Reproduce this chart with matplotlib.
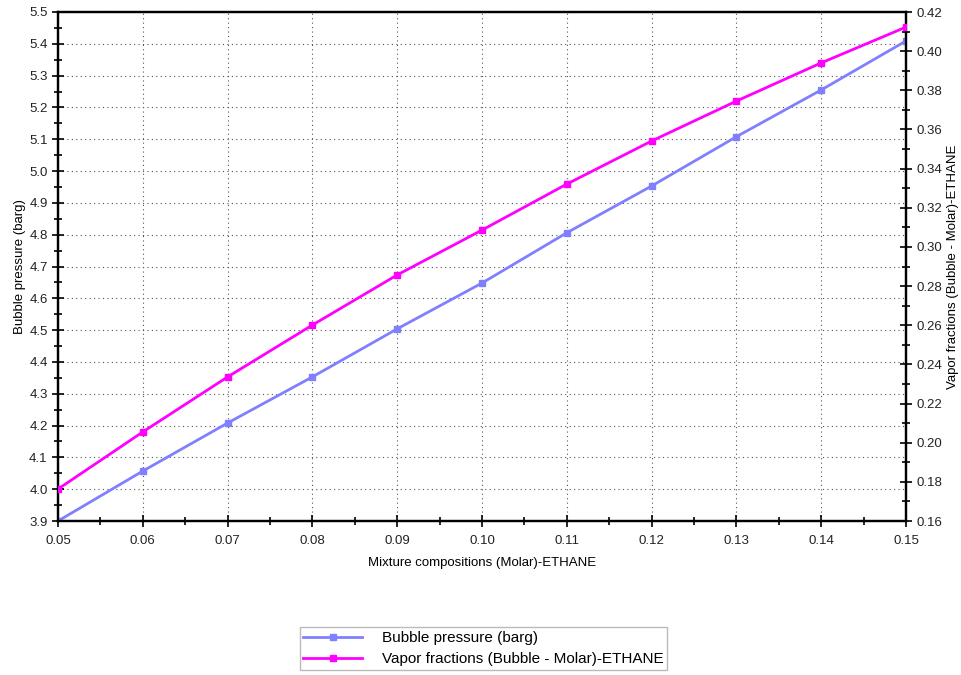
import matplotlib
matplotlib.use("Agg")
import matplotlib.pyplot as plt
from matplotlib.ticker import MultipleLocator, FormatStrFormatter

plt.rcParams['font.family'] = ['Liberation Sans', 'DejaVu Sans']

composition = [0.05, 0.06, 0.07, 0.08, 0.09, 0.10, 0.11, 0.12, 0.13, 0.14, 0.15]
bubble_pressure = [3.900, 4.057, 4.208, 4.353, 4.504, 4.648, 4.806, 4.953, 5.108, 5.255, 5.409]
vapor_fraction = [0.1763, 0.2055, 0.2336, 0.2601, 0.2857, 0.3086, 0.3321, 0.3541, 0.3745, 0.3940, 0.4123]

x_label = "Mixture compositions (Molar)-ETHANE"
left_label = "Bubble pressure (barg)"
right_label = "Vapor fractions (Bubble - Molar)-ETHANE"

fig = plt.figure(figsize=(9.62, 6.75), dpi=100)
ax = fig.add_axes([58/962, 1-521/675, (906-58)/962, (521-12)/675])
ax2 = ax.twinx()

l1, = ax.plot(composition, bubble_pressure, color='#8080FF', lw=2.0, marker='s', ms=5, zorder=3)
l2, = ax2.plot(composition, vapor_fraction, color='#FF00FF', lw=2.0, marker='s', ms=5, zorder=3)

ax.set_xlim(0.05, 0.15)
ax.set_ylim(3.9, 5.5)
ax2.set_ylim(0.16, 0.42)

ax.xaxis.set_major_locator(MultipleLocator(0.01))
ax.xaxis.set_minor_locator(MultipleLocator(0.005))
ax.yaxis.set_major_locator(MultipleLocator(0.1))
ax.yaxis.set_minor_locator(MultipleLocator(0.05))
ax2.yaxis.set_major_locator(MultipleLocator(0.02))
ax2.yaxis.set_minor_locator(MultipleLocator(0.01))

ax.xaxis.set_major_formatter(FormatStrFormatter('%.2f'))
ax.yaxis.set_major_formatter(FormatStrFormatter('%.1f'))
ax2.yaxis.set_major_formatter(FormatStrFormatter('%.2f'))

ax.grid(True, which='major', color='#555555', linestyle=(0, (1, 3)), linewidth=0.8)

for a in (ax, ax2):
    for s in a.spines.values():
        s.set_linewidth(1.6)
        s.set_color('black')

ax.tick_params(axis='both', which='major', direction='inout', length=8, width=1.2, labelsize=9.5, colors='black', labelcolor='#222222')
ax.tick_params(axis='both', which='minor', direction='inout', length=6, width=1.2)
ax2.tick_params(axis='y', which='major', direction='inout', length=8, width=1.2, labelsize=9.5, labelcolor='#222222')
ax2.tick_params(axis='y', which='minor', direction='inout', length=6, width=1.2)
ax.tick_params(axis='x', pad=6)

ax.set_xlabel(x_label, fontsize=9.5, labelpad=7)
ax.set_ylabel(left_label, fontsize=9.5, labelpad=2)
ax2.set_ylabel(right_label, fontsize=9.5, rotation=90, labelpad=3.5)

leg = fig.legend([l1, l2], [left_label, right_label], loc='center',
                 bbox_to_anchor=(483.5/962, 1-648.5/675), fontsize=11, numpoints=1,
                 markerscale=0.8, handlelength=3.85, handletextpad=1.3, frameon=True,
                 fancybox=False, borderpad=0.25, labelspacing=0.45, borderaxespad=0)
leg.get_frame().set_edgecolor('#aaaaaa')
leg.get_frame().set_linewidth(1.0)

fig.savefig('out.png', dpi=100)
